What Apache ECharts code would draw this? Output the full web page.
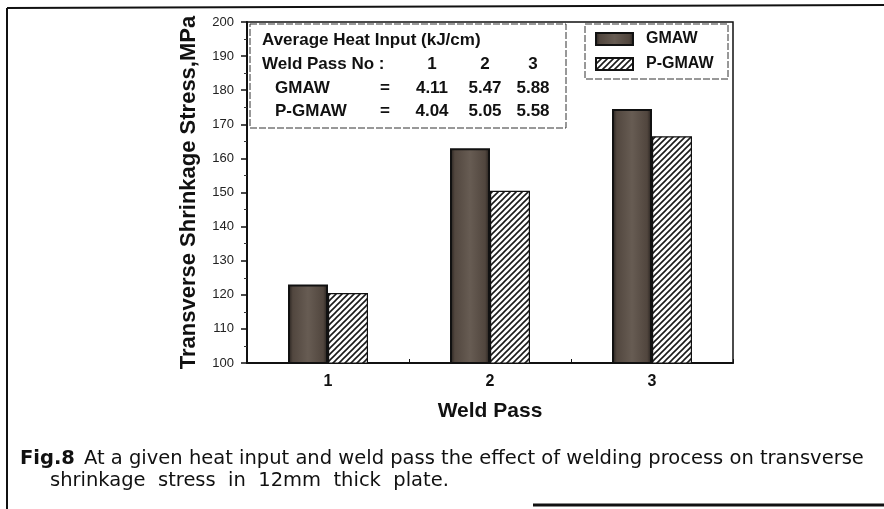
<!DOCTYPE html>
<html>
<head>
<meta charset="utf-8">
<script src="https://cdn.jsdelivr.net/npm/echarts@6/dist/echarts.min.js"></script>
<style>
html,body{margin:0;padding:0;background:#fff;}
#chart{width:884px;height:509px;}
</style>
</head>
<body>
<div id="chart"></div>
<script>
// ---- data ----
var categories = ['1', '2', '3'];
var gmaw = [123, 163, 174.5];
var pgmaw = [120.5, 150.5, 166.5];
var seriesNames = ['GMAW', 'P-GMAW'];
var heatPasses = ['1', '2', '3'];
var heatGMAW = ['4.11', '5.47', '5.88'];
var heatPGMAW = ['4.04', '5.05', '5.58'];
var yMin = 100, yMax = 200, yStep = 10;

// ---- patterns ----
function hatchPattern() {
  var c = document.createElement('canvas');
  c.width = 6; c.height = 6;
  var g = c.getContext('2d');
  g.fillStyle = '#fff'; g.fillRect(0, 0, 6, 6);
  g.strokeStyle = '#1a1a1a'; g.lineWidth = 1.6;
  g.beginPath();
  g.moveTo(-1, 7); g.lineTo(7, -1);
  g.moveTo(-4, 4); g.lineTo(4, -4);
  g.moveTo(2, 10); g.lineTo(10, 2);
  g.stroke();
  return c;
}
var hatch = { image: hatchPattern(), repeat: 'repeat' };
var darkFill = {
  type: 'linear', x: 0, y: 0, x2: 1, y2: 0,
  colorStops: [
    { offset: 0, color: '#221d1a' },
    { offset: 0.12, color: '#52473f' },
    { offset: 0.5, color: '#675c53' },
    { offset: 0.88, color: '#51463e' },
    { offset: 1, color: '#221d1a' }
  ]
};

var chart = echarts.init(document.getElementById('chart'));
var F = 'Liberation Sans, Arial, sans-serif';
var TF = 'bold 17px ' + F;
var CF = '19.5px DejaVu Sans, sans-serif';

var insetX = 262;
var colX = [432, 485, 533];
var rowY = [32, 56, 80, 103];
var graphics = [
  // outer frame
  { type: 'line', shape: { x1: 7, y1: 8, x2: 884, y2: 5 }, style: { stroke: '#111', lineWidth: 2 } },
  { type: 'line', shape: { x1: 7, y1: 8, x2: 7, y2: 509 }, style: { stroke: '#111', lineWidth: 2 } },
  { type: 'line', shape: { x1: 533, y1: 505, x2: 884, y2: 505 }, style: { stroke: '#111', lineWidth: 3 } },
  // inset table box
  { type: 'rect', shape: { x: 250, y: 24, width: 316, height: 104 }, style: { fill: '#fff', stroke: '#333', lineWidth: 1, lineDash: [7, 2] } },
  { type: 'text', left: insetX, top: rowY[0], style: { text: 'Average Heat Input (kJ/cm)', font: TF, fill: '#111' } },
  { type: 'text', left: insetX, top: rowY[1], style: { text: 'Weld Pass No :', font: TF, fill: '#111' } },
  { type: 'text', left: 275, top: rowY[2], style: { text: seriesNames[0], font: TF, fill: '#111' } },
  { type: 'text', left: 275, top: rowY[3], style: { text: seriesNames[1], font: TF, fill: '#111' } },
  { type: 'text', x: 385, y: rowY[2], style: { text: '=', font: TF, fill: '#111', textAlign: 'center' } },
  { type: 'text', x: 385, y: rowY[3], style: { text: '=', font: TF, fill: '#111', textAlign: 'center' } },
  // legend box
  { type: 'rect', shape: { x: 585, y: 24, width: 143, height: 55 }, style: { fill: '#fff', stroke: '#333', lineWidth: 1, lineDash: [7, 2] } },
  // caption
  { type: 'text', left: 20, top: 449, style: { text: 'Fig.8', font: 'bold ' + CF, fill: '#111' } },
  { type: 'text', left: 84, top: 449, style: { text: 'At a given heat input and weld pass the effect of welding process on transverse', font: CF, fill: '#111' } },
  { type: 'text', left: 50, top: 471, style: { text: 'shrinkage  stress  in  12mm  thick  plate.', font: CF, fill: '#111' } }
];
for (var i = 0; i < 3; i++) {
  graphics.push({ type: 'text', x: colX[i], y: rowY[1], style: { text: heatPasses[i], font: TF, fill: '#111', textAlign: 'center' } });
  graphics.push({ type: 'text', x: colX[i], y: rowY[2], style: { text: heatGMAW[i], font: TF, fill: '#111', textAlign: 'center' } });
  graphics.push({ type: 'text', x: colX[i], y: rowY[3], style: { text: heatPGMAW[i], font: TF, fill: '#111', textAlign: 'center' } });
}

chart.setOption({
  backgroundColor: '#fff',
  animation: false,
  grid: { left: 247, right: 151, top: 22, bottom: 146, show: true, borderColor: '#111', borderWidth: 1.5, backgroundColor: 'transparent' },
  legend: {
    orient: 'vertical', left: 590, top: 26, itemWidth: 37, itemHeight: 12, itemGap: 9,
    icon: 'rect',
    textStyle: { fontFamily: F, fontWeight: 'bold', fontSize: 16, lineHeight: 16, color: '#111', padding: [0, 0, 0, 8] },
    data: seriesNames, z: 10
  },
  xAxis: {
    type: 'category', data: categories,
    name: 'Weld Pass', nameLocation: 'middle', nameGap: 38,
    nameTextStyle: { fontFamily: F, fontWeight: 'bold', fontSize: 21, color: '#111' },
    axisLine: { lineStyle: { color: '#111', width: 2 } },
    axisTick: { show: true, inside: true, length: 4, lineStyle: { color: '#111' } },
    axisLabel: { fontFamily: F, fontWeight: 'bold', fontSize: 16, color: '#111', margin: 11 },
    splitLine: { show: false }
  },
  yAxis: {
    type: 'value', min: yMin, max: yMax, interval: yStep,
    name: 'Transverse Shrinkage Stress,MPa', nameLocation: 'middle', nameGap: 47,
    nameTextStyle: { fontFamily: F, fontWeight: 'bold', fontSize: 22, color: '#111' },
    axisLine: { show: true, lineStyle: { color: '#111', width: 2 } },
    axisTick: { show: true, length: 6, lineStyle: { color: '#111', width: 1.5 } },
    minorTick: { show: true, splitNumber: 2, length: 3, lineStyle: { color: '#333' } },
    axisLabel: { fontFamily: F, fontSize: 13, color: '#222', margin: 13 },
    splitLine: { show: false }
  },
  series: [
    { name: seriesNames[0], type: 'bar', data: gmaw, barWidth: 40, barGap: '0%',
      itemStyle: { color: darkFill, borderColor: '#111', borderWidth: 2 } },
    { name: seriesNames[1], type: 'bar', data: pgmaw, barWidth: 40,
      itemStyle: { color: hatch, borderColor: '#111', borderWidth: 1.2 } }
  ],
  graphic: graphics
});
</script>
</body>
</html>
